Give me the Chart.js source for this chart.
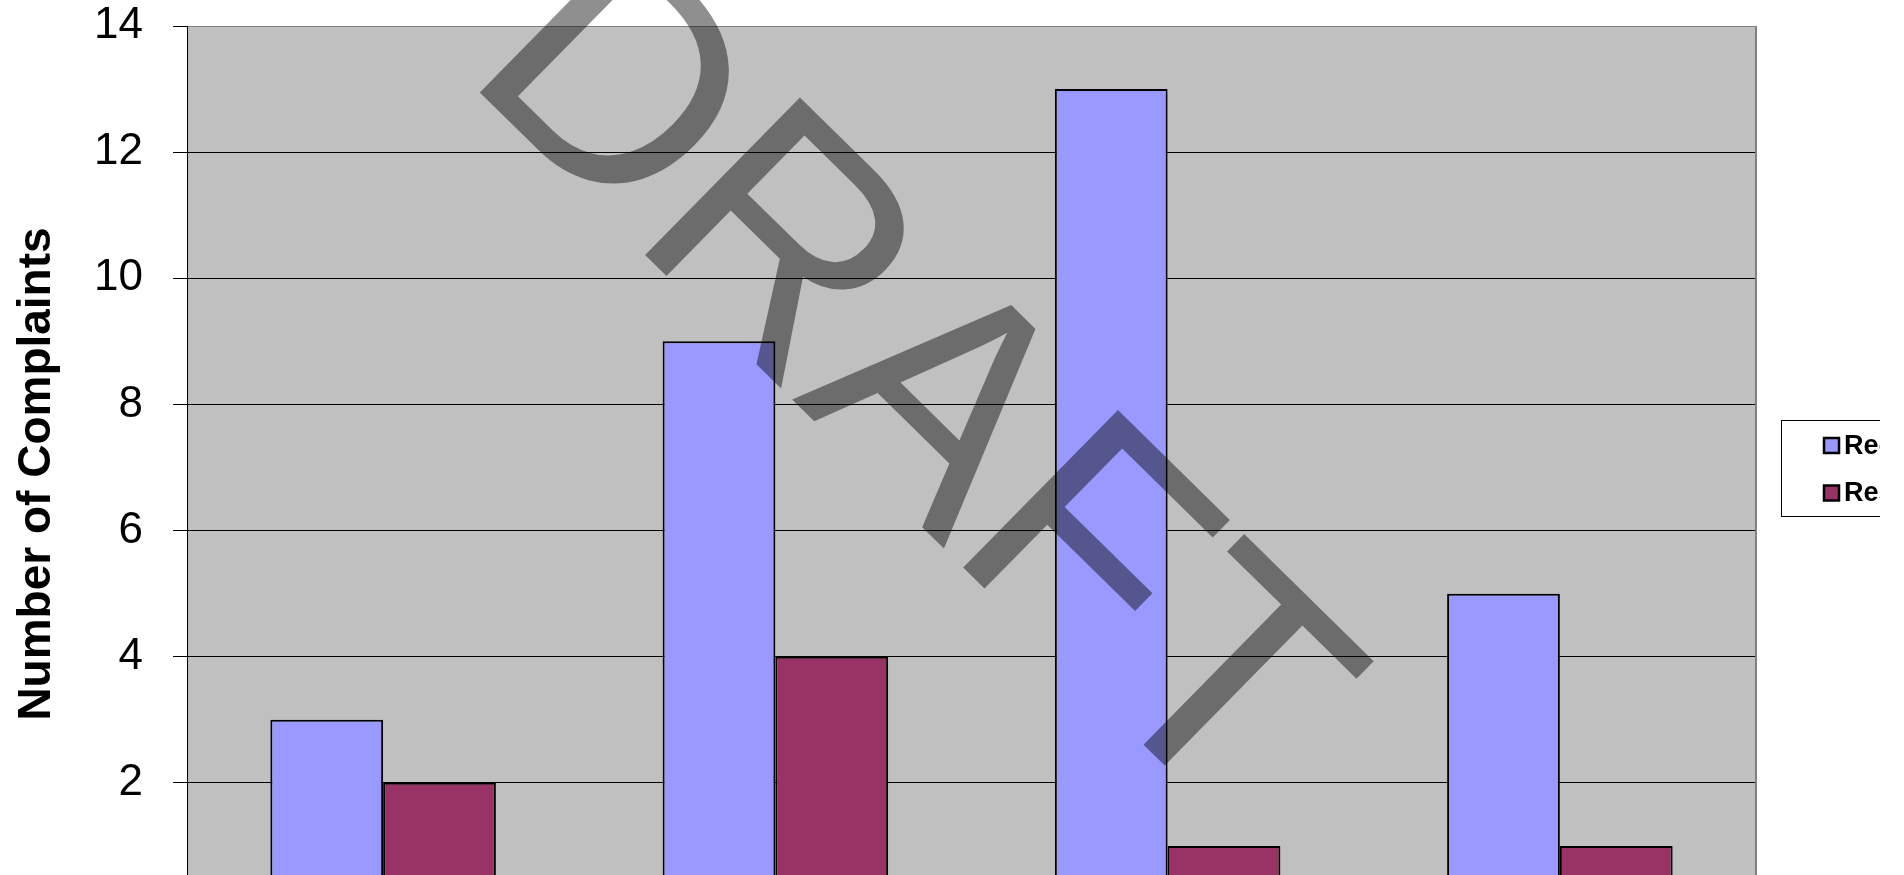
<!DOCTYPE html>
<html><head><meta charset="utf-8">
<script src="https://cdn.jsdelivr.net/npm/chart.js@4"></script>
<style>
html,body{margin:0;padding:0;background:#fff;overflow:hidden;width:1904px;height:875px;}
#wrap{position:absolute;left:0;top:0;width:1880px;height:1000px;}
</style></head><body>
<div id="wrap"><canvas id="c"></canvas></div>
<script>
const categories = ['Group 1', 'Group 2', 'Group 3', 'Group 4'];
const seriesNames = ['Received', 'Resolved'];
const receivedValues = [3, 9, 13, 5];
const resolvedValues = [2, 4, 1, 1];
const yTicks = [0, 2, 4, 6, 8, 10, 12, 14];
const seriesColors = ['#9999ff', '#993366'];
const watermarkText = 'DRAFT';
const yTitle = 'Number of Complaints';

const FONT = "'Liberation Sans', Arial, sans-serif";

const plotBg = {
  id: 'plotBg',
  beforeDraw(chart) {
    const {ctx, chartArea: a} = chart;
    ctx.save();
    ctx.fillStyle = '#c0c0c0';
    ctx.fillRect(a.left, a.top, a.right - a.left, a.bottom - a.top);
    ctx.restore();
  },
  beforeDatasetsDraw(chart) {
    const {ctx, chartArea: a} = chart;
    ctx.save();
    ctx.strokeStyle = '#808080';
    ctx.lineWidth = 2;
    ctx.beginPath();
    ctx.moveTo(a.right, a.top);
    ctx.lineTo(a.right, a.bottom);
    ctx.stroke();
    ctx.restore();
  }
};

const overlay = {
  id: 'overlay',
  afterDraw(chart) {
    const {ctx, chartArea: a} = chart;
    // y axis title
    ctx.save();
    ctx.translate(50, 474);
    ctx.rotate(-Math.PI / 2);
    ctx.font = 'bold 46px ' + FONT;
    ctx.fillStyle = '#000';
    ctx.textAlign = 'center';
    ctx.textBaseline = 'alphabetic';
    ctx.fillText(yTitle, 0, 0);
    ctx.restore();
    // watermark
    ctx.save();
    ctx.translate(461, 74);
    ctx.rotate(44.5 * Math.PI / 180);
    ctx.font = '321px ' + FONT;
    ctx.fillStyle = 'rgba(0,0,0,0.44)';
    ctx.textBaseline = 'alphabetic';
    ctx.textAlign = 'left';
    ctx.fillText(watermarkText, 0, 0);
    ctx.restore();
    // legend
    const bx = a.right + 25, by = 420, bh = 96, bw = 400;
    ctx.save();
    ctx.fillStyle = '#fff';
    ctx.fillRect(bx, by, bw, bh);
    ctx.strokeStyle = '#000';
    ctx.lineWidth = 1;
    ctx.strokeRect(bx + 0.5, by + 0.5, bw, bh);
    ctx.font = 'bold 27px ' + FONT;
    ctx.textBaseline = 'middle';
    chart.data.datasets.forEach((ds, i) => {
      const cy = 445.5 + i * 47.5;
      ctx.fillStyle = ds.backgroundColor;
      ctx.fillRect(bx + 43, cy - 7.5, 15, 15);
      ctx.strokeStyle = '#000';
      ctx.lineWidth = 2.5;
      ctx.strokeRect(bx + 43, cy - 7.5, 15, 15);
      ctx.fillStyle = '#000';
      ctx.fillText(ds.label, bx + 63, cy + 1);
    });
    ctx.restore();
  }
};

new Chart(document.getElementById('c'), {
  type: 'bar',
  data: {
    labels: categories,
    datasets: [
      {label: seriesNames[0], data: receivedValues, backgroundColor: seriesColors[0], borderColor: '#000', borderWidth: 2},
      {label: seriesNames[1], data: resolvedValues, backgroundColor: seriesColors[1], borderColor: '#000', borderWidth: 2}
    ]
  },
  options: {
    responsive: true,
    maintainAspectRatio: false,
    animation: false,
    events: [],
    layout: {padding: {top: 0, right: 124, bottom: 91, left: 0}},
    datasets: {bar: {categoryPercentage: 0.575, barPercentage: 1}},
    plugins: {legend: {display: false}, tooltip: {enabled: false}},
    scales: {
      x: {display: false},
      y: {
        min: 0, max: 14,
        afterBuildTicks(s) { s.ticks = yTicks.map(v => ({value: v})); },
        afterFit(s) { s.width = 187; s.paddingTop = 26; s.paddingBottom = 0; },
        ticks: {color: '#000', padding: 30, font: {family: FONT, size: 44}},
        grid: {
          color: c => (c.tick && c.tick.value === 14) ? '#808080' : '#000',
          tickColor: '#000',
          tickLength: 14,
          lineWidth: 1
        },
        border: {display: true, color: '#000', width: 1},
        title: {display: false}
      }
    }
  },
  plugins: [plotBg, overlay]
});
</script>
</body></html>
